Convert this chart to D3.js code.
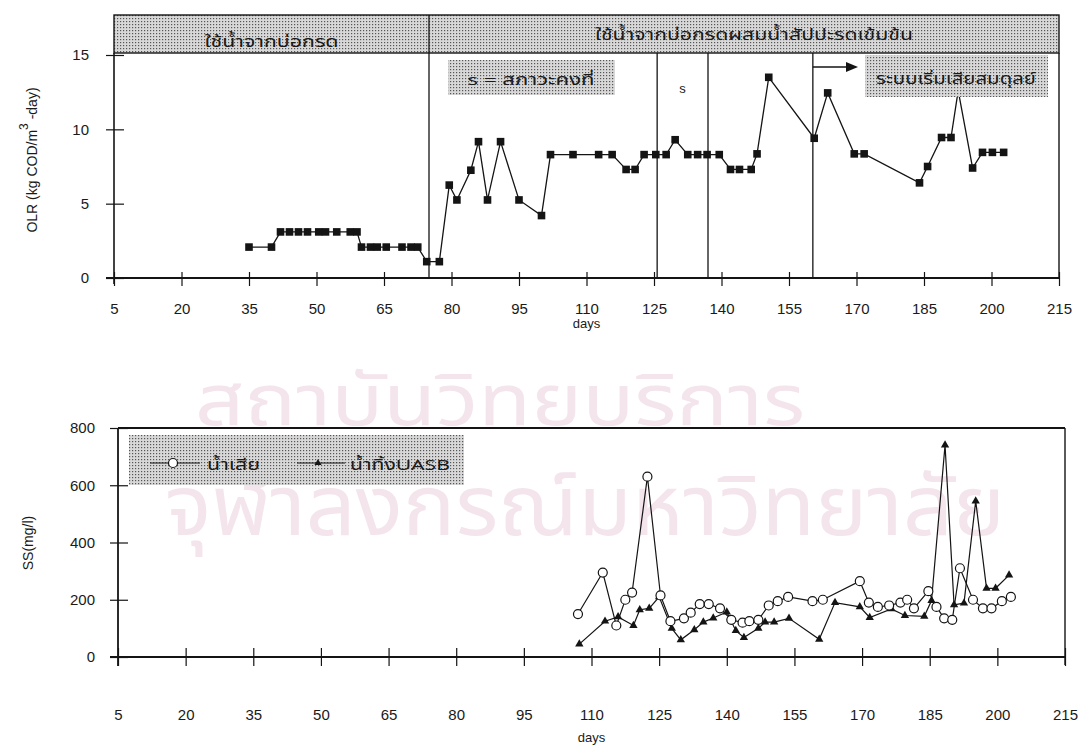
<!DOCTYPE html>
<html>
<head>
<meta charset="utf-8">
<script src="https://cdn.jsdelivr.net/npm/d3@7"></script>
<style>
  body { margin: 0; background: #fff; }
  svg { display: block; }
  text { font-family: "Liberation Sans", Arial, "Noto Sans", sans-serif; fill: #1a1a1a; }
  .th { font-family: "Noto Sans Thai", "Loma", "Garuda", "Tlwg Typo", "Noto Sans", sans-serif; }
</style>
</head>
<body>
<svg id="chart" width="1089" height="747"></svg>
<script>
// ---------- data ----------
// Organic loading rate (kg COD/m3-day) by day
const olrDays = [35, 40, 42, 44, 46, 48, 50.5, 52, 54.5, 57.5, 59, 60, 62, 63.5, 65.5, 69, 71, 72.5,
  74.5, 77.3, 79.5, 81.2, 84.3, 86, 88, 90.9, 95, 100, 102, 107, 112.7, 115.7, 118.8, 120.8,
  122.8, 125.4, 127.7, 129.7, 132.5, 134.7, 136.8, 139.5, 142, 144, 146.6, 147.9, 150.5,
  160.6, 163.6, 169.5, 171.7, 184, 185.8, 188.9, 191, 192.6, 195.8, 198, 200.2, 202.7];
const olrValues = [2.08, 2.08, 3.1, 3.1, 3.1, 3.1, 3.1, 3.1, 3.1, 3.1, 3.1, 2.08, 2.08, 2.08, 2.08, 2.08, 2.08, 2.08,
  1.1, 1.1, 6.25, 5.25, 7.25, 9.17, 5.25, 9.17, 5.25, 4.2, 8.3, 8.3, 8.3, 8.3, 7.3, 7.3,
  8.3, 8.3, 8.3, 9.3, 8.3, 8.3, 8.3, 8.3, 7.3, 7.3, 7.3, 8.35, 13.5,
  9.4, 12.45, 8.35, 8.35, 6.4, 7.5, 9.45, 9.45, 12.6, 7.4, 8.45, 8.45, 8.45];

// Suspended solids (mg/l): raw wastewater and UASB effluent
const wwDays = [107, 112.5, 115.5, 117.5, 119, 122.4, 125.3, 127.5, 130.5, 132, 134, 136, 138.5, 141,
  143.5, 145, 147, 149.3, 151.3, 153.6, 159, 161.3, 169.5, 171.5, 173.5, 176, 178.5, 180, 181.5,
  184.7, 186.5, 188.2, 190, 191.7, 194.6, 196.8, 198.7, 201, 203];
const wwValues = [150, 295, 110, 200, 225, 630, 215, 125, 135, 155, 185, 185, 170, 130,
  120, 125, 130, 180, 195, 210, 195, 200, 265, 190, 175, 180, 190, 200, 170,
  230, 175, 135, 130, 310, 200, 170, 170, 195, 210];
const efDays = [107.3, 113, 115.9, 119.3, 120.7, 122.8, 125, 127.8, 129.8, 132.8, 134.8, 137, 140, 142,
  143.8, 147, 148.5, 150.5, 153.8, 160.5, 164, 169.5, 171.7, 176.5, 179.5, 183.8, 185.4, 188.4,
  190.4, 192.6, 195.2, 197.6, 199.6, 202.6];
const efValues = [45, 125, 140, 110, 165, 170, 210, 100, 60, 95, 122, 136, 157, 92,
  68, 100, 122, 122, 135, 62, 190, 175, 138, 168, 145, 142, 197, 740,
  182, 188, 545, 240, 240, 286];

// Axis ticks and annotation text
const xTicks = [5, 20, 35, 50, 65, 80, 95, 110, 125, 140, 155, 170, 185, 200, 215];
const olrTicks = [0, 5, 10, 15];
const ssTicks = [0, 200, 400, 600, 800];
const phaseBounds = [75, 125.7, 137, 160.3];
const headerLabels = ["ใช้น้ำจากบ่อกรด", "ใช้น้ำจากบ่อกรดผสมน้ำสัปปะรดเข้มข้น"];
const steadyLabel = "s = สภาวะคงที่";
const steadyMark = "s";
const upsetLabel = "ระบบเริ่มเสียสมดุลย์";
const legendLabels = ["น้ำเสีย", "น้ำทิ้งUASB"];
const watermark = ["สถาบันวิทยบริการ", "จุฬาลงกรณ์มหาวิทยาลัย"];

// ---------- drawing ----------
const svg = d3.select("#chart");
svg.append("rect").attr("width", 1089).attr("height", 747).attr("fill", "#fff");

const defs = svg.append("defs");
const pat = defs.append("pattern").attr("id", "halftone")
  .attr("width", 3).attr("height", 3).attr("patternUnits", "userSpaceOnUse");
pat.append("rect").attr("width", 3).attr("height", 3).attr("fill", "#d8d8d8");
pat.append("rect").attr("width", 1.2).attr("height", 1.2).attr("fill", "#555");

// faint background seal text
svg.append("text").attr("class", "th").attr("x", 500).attr("y", 425)
  .attr("text-anchor", "middle").attr("font-size", 72)
  .attr("textLength", 610).attr("lengthAdjust", "spacingAndGlyphs")
  .style("fill", "#f4e4ec").text(watermark[0]);
svg.append("text").attr("class", "th").attr("x", 585).attr("y", 535)
  .attr("text-anchor", "middle").attr("font-size", 84)
  .attr("textLength", 840).attr("lengthAdjust", "spacingAndGlyphs")
  .style("fill", "#f4e4ec").text(watermark[1]);

const ink = "#141414";

// ===== Upper panel: OLR =====
const xT = d3.scaleLinear().domain([5, 215]).range([114, 1059]);
const yT = d3.scaleLinear().domain([0, 15]).range([278, 55]);
const gTop = svg.append("g");

// header band
gTop.append("rect").attr("x", xT(5)).attr("y", 15).attr("width", xT(215) - xT(5)).attr("height", 38)
  .attr("fill", "url(#halftone)").attr("stroke", ink).attr("stroke-width", 1.4);
gTop.append("text").attr("class", "th").attr("x", (xT(5) + xT(phaseBounds[0])) / 2).attr("y", 47)
  .attr("text-anchor", "middle").attr("font-size", 16)
  .attr("textLength", 134).attr("lengthAdjust", "spacingAndGlyphs").text(headerLabels[0]);
gTop.append("text").attr("class", "th").attr("x", 754).attr("y", 40)
  .attr("text-anchor", "middle").attr("font-size", 16)
  .attr("textLength", 318).attr("lengthAdjust", "spacingAndGlyphs").text(headerLabels[1]);

// right frame edge
gTop.append("line").attr("x1", xT(215)).attr("x2", xT(215)).attr("y1", 53).attr("y2", yT(0))
  .attr("stroke", ink).attr("stroke-width", 1.4);

// phase boundaries
phaseBounds.forEach((d, i) => {
  gTop.append("line").attr("x1", xT(d)).attr("x2", xT(d))
    .attr("y1", i === 0 ? 15 : 53).attr("y2", yT(0))
    .attr("stroke", ink).attr("stroke-width", 1.3);
});

// steady-state note
gTop.append("rect").attr("x", 448).attr("y", 60).attr("width", 167).attr("height", 35)
  .attr("fill", "url(#halftone)");
gTop.append("text").attr("class", "th").attr("x", 531).attr("y", 85)
  .attr("text-anchor", "middle").attr("font-size", 15)
  .attr("textLength", 127).attr("lengthAdjust", "spacingAndGlyphs").text(steadyLabel);
gTop.append("text").attr("x", (xT(phaseBounds[1]) + xT(phaseBounds[2])) / 2).attr("y", 93)
  .attr("text-anchor", "middle").attr("font-size", 13).text(steadyMark);

// arrow into the upset period
gTop.append("line").attr("x1", xT(phaseBounds[3])).attr("x2", 848).attr("y1", 67).attr("y2", 67)
  .attr("stroke", ink).attr("stroke-width", 1.4);
gTop.append("path").attr("d", "M846,62 L858,67 L846,72 Z").attr("fill", ink);

// axes
const axL = d3.axisLeft(yT).tickValues(olrTicks).tickSize(0).tickPadding(0);
const gyT = gTop.append("g").attr("transform", `translate(${xT(5)},0)`).call(axL);
gyT.select(".domain").remove();
gyT.selectAll(".tick line").attr("x1", -8).attr("x2", 10).attr("stroke", ink).attr("stroke-width", 1.2);
gyT.selectAll(".tick text").attr("x", -25).attr("font-size", 15).style("fill", "#1a1a1a")
  .attr("font-family", "Liberation Sans, Arial, sans-serif");
gTop.append("line").attr("x1", xT(5)).attr("x2", xT(5)).attr("y1", 53).attr("y2", yT(0) + 6)
  .attr("stroke", ink).attr("stroke-width", 1.6);

const axB = d3.axisBottom(xT).tickValues(xTicks).tickSize(0).tickPadding(0);
const gxT = gTop.append("g").attr("transform", `translate(0,${yT(0)})`).call(axB);
gxT.select(".domain").remove();
gxT.selectAll(".tick line").attr("y1", -6).attr("y2", 8).attr("stroke", ink).attr("stroke-width", 1.2);
gxT.selectAll(".tick text").attr("y", 25).attr("font-size", 15).style("fill", "#1a1a1a")
  .attr("font-family", "Liberation Sans, Arial, sans-serif");
gTop.append("line").attr("x1", xT(5) - 8).attr("x2", xT(215)).attr("y1", yT(0)).attr("y2", yT(0))
  .attr("stroke", ink).attr("stroke-width", 1.8);
gTop.append("text").attr("x", xT(110)).attr("y", 328).attr("text-anchor", "middle")
  .attr("font-size", 13).text("days");

// y title with superscript
const yt = gTop.append("text").attr("transform", "translate(37,160) rotate(-90)")
  .attr("text-anchor", "middle").attr("font-size", 14);
yt.append("tspan").text("OLR (kg COD/m");
yt.append("tspan").attr("dy", -9).attr("font-size", 12).text("3");
yt.append("tspan").attr("dy", 9).text(" -day)");

// OLR series
const olr = olrDays.map((d, i) => [d, olrValues[i]]);
gTop.append("path").datum(olr)
  .attr("d", d3.line().x(d => xT(d[0])).y(d => yT(d[1])))
  .attr("fill", "none").attr("stroke", ink).attr("stroke-width", 1.3);
gTop.selectAll(".sq").data(olr).enter().append("rect")
  .attr("x", d => xT(d[0]) - 3.8).attr("y", d => yT(d[1]) - 3.8)
  .attr("width", 7.6).attr("height", 7.6).attr("fill", ink);

// upset note (over the series)
gTop.append("rect").attr("x", 865).attr("y", 55).attr("width", 183).attr("height", 42)
  .attr("fill", "url(#halftone)");
gTop.append("text").attr("class", "th").attr("x", 956).attr("y", 84)
  .attr("text-anchor", "middle").attr("font-size", 15)
  .attr("textLength", 160).attr("lengthAdjust", "spacingAndGlyphs").text(upsetLabel);

// ===== Lower panel: SS =====
const xB = d3.scaleLinear().domain([5, 215]).range([118, 1065]);
const yB = d3.scaleLinear().domain([0, 800]).range([657, 428]);
const gBot = svg.append("g");

// frame
gBot.append("line").attr("x1", xB(5)).attr("x2", xB(215)).attr("y1", yB(800)).attr("y2", yB(800))
  .attr("stroke", ink).attr("stroke-width", 1.8);
gBot.append("line").attr("x1", xB(215)).attr("x2", xB(215)).attr("y1", yB(800)).attr("y2", yB(0) + 8)
  .attr("stroke", ink).attr("stroke-width", 1.4);

const gyB = gBot.append("g").attr("transform", `translate(${xB(5)},0)`)
  .call(d3.axisLeft(yB).tickValues(ssTicks).tickSize(0).tickPadding(0));
gyB.select(".domain").remove();
gyB.selectAll(".tick line").attr("x1", -8).attr("x2", 10).attr("stroke", ink).attr("stroke-width", 1.2);
gyB.selectAll(".tick text").attr("x", -23).attr("font-size", 15).style("fill", "#1a1a1a")
  .attr("font-family", "Liberation Sans, Arial, sans-serif");
gBot.append("line").attr("x1", xB(5)).attr("x2", xB(5)).attr("y1", yB(800)).attr("y2", yB(0) + 9)
  .attr("stroke", ink).attr("stroke-width", 1.8);

const gxB = gBot.append("g").attr("transform", `translate(0,${yB(0)})`)
  .call(d3.axisBottom(xB).tickValues(xTicks).tickSize(0).tickPadding(0));
gxB.select(".domain").remove();
gxB.selectAll(".tick line").attr("y1", -9).attr("y2", 9).attr("stroke", ink).attr("stroke-width", 1.2);
gxB.selectAll(".tick text").attr("y", 52).attr("font-size", 15).style("fill", "#1a1a1a")
  .attr("font-family", "Liberation Sans, Arial, sans-serif");
gBot.append("line").attr("x1", xB(5) - 8).attr("x2", xB(215)).attr("y1", yB(0)).attr("y2", yB(0))
  .attr("stroke", ink).attr("stroke-width", 1.8);
gBot.append("text").attr("x", xB(110)).attr("y", 742).attr("text-anchor", "middle")
  .attr("font-size", 13).text("days");
gBot.append("text").attr("transform", "translate(33,543) rotate(-90)")
  .attr("text-anchor", "middle").attr("font-size", 14).text("SS(mg/l)");

// legend
gBot.append("rect").attr("x", 129).attr("y", 435).attr("width", 335).attr("height", 50)
  .attr("fill", "url(#halftone)");
gBot.append("line").attr("x1", 150).attr("x2", 200).attr("y1", 463).attr("y2", 463)
  .attr("stroke", ink).attr("stroke-width", 1.2);
gBot.append("circle").attr("cx", 173).attr("cy", 463).attr("r", 4.5)
  .attr("fill", "#fff").attr("stroke", ink).attr("stroke-width", 1.2);
gBot.append("text").attr("class", "th").attr("x", 207).attr("y", 470).attr("font-size", 15)
  .attr("textLength", 53).attr("lengthAdjust", "spacingAndGlyphs").text(legendLabels[0]);
gBot.append("line").attr("x1", 297).attr("x2", 345).attr("y1", 463).attr("y2", 463)
  .attr("stroke", ink).attr("stroke-width", 1.2);
gBot.append("path").attr("transform", "translate(318,463)")
  .attr("d", d3.symbol(d3.symbolTriangle, 22)()).attr("fill", ink);
gBot.append("text").attr("class", "th").attr("x", 350).attr("y", 470).attr("font-size", 15)
  .attr("textLength", 100).attr("lengthAdjust", "spacingAndGlyphs").text(legendLabels[1]);

// series lines
const lineB = d3.line().x(d => xB(d[0])).y(d => yB(d[1]));
const ww = wwDays.map((d, i) => [d, wwValues[i]]);
const ef = efDays.map((d, i) => [d, efValues[i]]);
gBot.append("path").datum(ww).attr("d", lineB)
  .attr("fill", "none").attr("stroke", ink).attr("stroke-width", 1.2);
gBot.append("path").datum(ef).attr("d", lineB)
  .attr("fill", "none").attr("stroke", ink).attr("stroke-width", 1.2);
gBot.selectAll(".tri").data(ef).enter().append("path")
  .attr("transform", d => `translate(${xB(d[0])},${yB(d[1])})`)
  .attr("d", d3.symbol(d3.symbolTriangle, 30)()).attr("fill", ink);
gBot.selectAll(".ring").data(ww).enter().append("circle")
  .attr("cx", d => xB(d[0])).attr("cy", d => yB(d[1])).attr("r", 4.5)
  .attr("fill", "#fff").attr("stroke", ink).attr("stroke-width", 1.2);
</script>
</body>
</html>
